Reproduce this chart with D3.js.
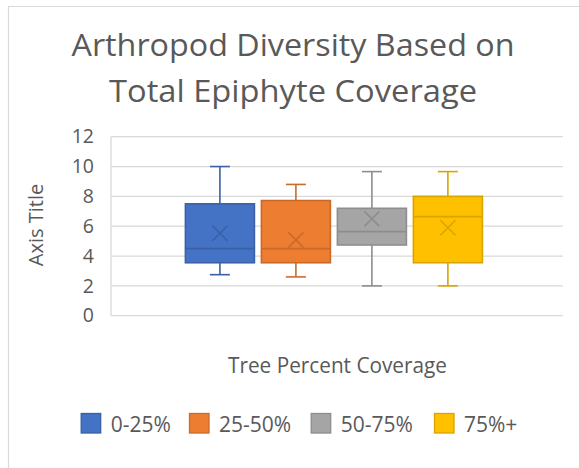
<!DOCTYPE html>
<html>
<head>
<meta charset="utf-8">
<script src="https://cdn.jsdelivr.net/npm/d3@7"></script>
<style>
  html, body { margin: 0; padding: 0; background: #fff; }
  svg { display: block; }
  text { font-family: "Open Sans", "Noto Sans", sans-serif; fill: #595959; }
</style>
</head>
<body>
<svg id="chart" width="579" height="468"></svg>
<script>
// Box-and-whisker summaries for each coverage class
const categories = ["0-25%", "25-50%", "50-75%", "75%+"];
const mins    = [2.75, 2.6, 2.0, 2.0];
const q1s     = [3.55, 3.55, 4.74, 3.55];
const medians = [4.5, 4.5, 5.64, 6.64];
const q3s     = [7.5, 7.72, 7.2, 8.0];
const maxs    = [10.0, 8.8, 9.66, 9.66];
const means   = [5.53, 5.08, 6.49, 5.9];
const yTicks  = [0, 2, 4, 6, 8, 10, 12];
const colors  = ["#4472C4", "#ED7D31", "#A5A5A5", "#FFC000"];

const titleLines = ["Arthropod Diversity Based on", "Total Epiphyte Coverage"];
const yTitle = "Axis Title";
const xTitle = "Tree Percent Coverage";

const rows = categories.map((c, i) => ({
  name: c, min: mins[i], q1: q1s[i], median: medians[i],
  q3: q3s[i], max: maxs[i], mean: means[i], color: colors[i]
}));

const svg = d3.select("#chart");
const gridColor = "#D9D9D9";

// Outer chart frame
svg.append("path")
  .attr("d", "M8.5,468 L8.5,6.5 L579,6.5")
  .attr("fill", "none").attr("stroke", gridColor).attr("stroke-width", 1.2);

// Title
const titleSpec = [{y: 56, len: 443}, {y: 102, len: 368}];
svg.append("g").selectAll("text").data(titleLines).join("text")
  .attr("x", 293).attr("y", (d, i) => titleSpec[i].y)
  .attr("text-anchor", "middle")
  .attr("font-size", 31)
  .attr("textLength", (d, i) => titleSpec[i].len)
  .attr("lengthAdjust", "spacingAndGlyphs")
  .text(d => d);

// Scales
const plot = {left: 111, right: 563, top: 136.7, bottom: 315.7};
const y = d3.scaleLinear().domain([0, 12]).range([plot.bottom, plot.top]);
const xOuter = d3.scaleBand().domain(["all"]).range([plot.left, plot.right])
  .paddingInner(0).paddingOuter(0.261).align(0.48);
const xInner = d3.scaleBand().domain(categories)
  .range([0, xOuter.bandwidth()]).paddingInner(0.092).paddingOuter(0);

// Gridlines
svg.append("g").selectAll("line").data(yTicks).join("line")
  .attr("x1", plot.left).attr("x2", plot.right)
  .attr("y1", d => y(d)).attr("y2", d => y(d))
  .attr("stroke", gridColor).attr("stroke-width", 1.3);
svg.append("line")
  .attr("x1", plot.left).attr("x2", plot.left)
  .attr("y1", y(12)).attr("y2", y(0))
  .attr("stroke", gridColor).attr("stroke-width", 1.3);

// Y axis labels
const yAxis = svg.append("g")
  .attr("transform", `translate(${plot.left},0)`)
  .call(d3.axisLeft(y).tickValues(yTicks).tickSize(0).tickPadding(17).tickFormat(d3.format("d")));
yAxis.select(".domain").remove();
yAxis.selectAll("text")
  .attr("font-size", 19.5)
  .attr("font-family", "'Open Sans', 'Noto Sans', sans-serif")
  .attr("fill", "#595959");

// Axis titles
svg.append("text")
  .attr("transform", "translate(43,225) rotate(-90)")
  .attr("text-anchor", "middle")
  .attr("font-size", 20)
  .text(yTitle);
svg.append("text")
  .attr("x", 337.5).attr("y", 373)
  .attr("text-anchor", "middle")
  .attr("font-size", 21)
  .attr("textLength", 219).attr("lengthAdjust", "spacingAndGlyphs")
  .text(xTitle);

// Boxes
const g = svg.append("g").attr("transform", `translate(${xOuter("all")},0)`);
const bw = xInner.bandwidth();
const capW = 20;
const xr = 7.5;

const box = g.selectAll("g.box").data(rows).join("g")
  .attr("class", "box")
  .attr("transform", d => `translate(${xInner(d.name)},0)`);

box.each(function(d) {
  const s = d3.select(this);
  const edge = d3.color(d.color).darker(0.45).formatHex();
  const cx = bw / 2;
  // whiskers
  s.append("line").attr("x1", cx).attr("x2", cx)
    .attr("y1", y(d.max)).attr("y2", y(d.q3))
    .attr("stroke", edge).attr("stroke-width", 1.6);
  s.append("line").attr("x1", cx).attr("x2", cx)
    .attr("y1", y(d.q1)).attr("y2", y(d.min))
    .attr("stroke", edge).attr("stroke-width", 1.6);
  s.append("line").attr("x1", cx - capW / 2).attr("x2", cx + capW / 2)
    .attr("y1", y(d.max)).attr("y2", y(d.max))
    .attr("stroke", edge).attr("stroke-width", 1.6);
  s.append("line").attr("x1", cx - capW / 2).attr("x2", cx + capW / 2)
    .attr("y1", y(d.min)).attr("y2", y(d.min))
    .attr("stroke", edge).attr("stroke-width", 1.6);
  // box
  s.append("rect")
    .attr("x", 0).attr("width", bw)
    .attr("y", y(d.q3)).attr("height", y(d.q1) - y(d.q3))
    .attr("fill", d.color).attr("stroke", edge).attr("stroke-width", 1.6);
  // median
  s.append("line").attr("x1", 0).attr("x2", bw)
    .attr("y1", y(d.median)).attr("y2", y(d.median))
    .attr("stroke", edge).attr("stroke-width", 1.8);
  // mean marker
  const my = y(d.mean);
  s.append("path")
    .attr("d", `M${cx - xr},${my - xr}L${cx + xr},${my + xr}M${cx - xr},${my + xr}L${cx + xr},${my - xr}`)
    .attr("stroke", edge).attr("stroke-width", 1.6).attr("fill", "none");
});

// Legend
const legendX = [80.7, 189, 310.7, 434];
const legend = svg.append("g").selectAll("g").data(rows).join("g")
  .attr("transform", (d, i) => `translate(${legendX[i]},413)`);
legend.append("rect")
  .attr("x", 0.5).attr("y", 0.5).attr("width", 19.5).attr("height", 19.5)
  .attr("fill", d => d.color)
  .attr("stroke", d => d3.color(d.color).darker(0.45).formatHex())
  .attr("stroke-width", 1.3);
legend.append("text")
  .attr("x", 30).attr("y", 18.5)
  .attr("font-size", 21)
  .text(d => d.name);
</script>
</body>
</html>
